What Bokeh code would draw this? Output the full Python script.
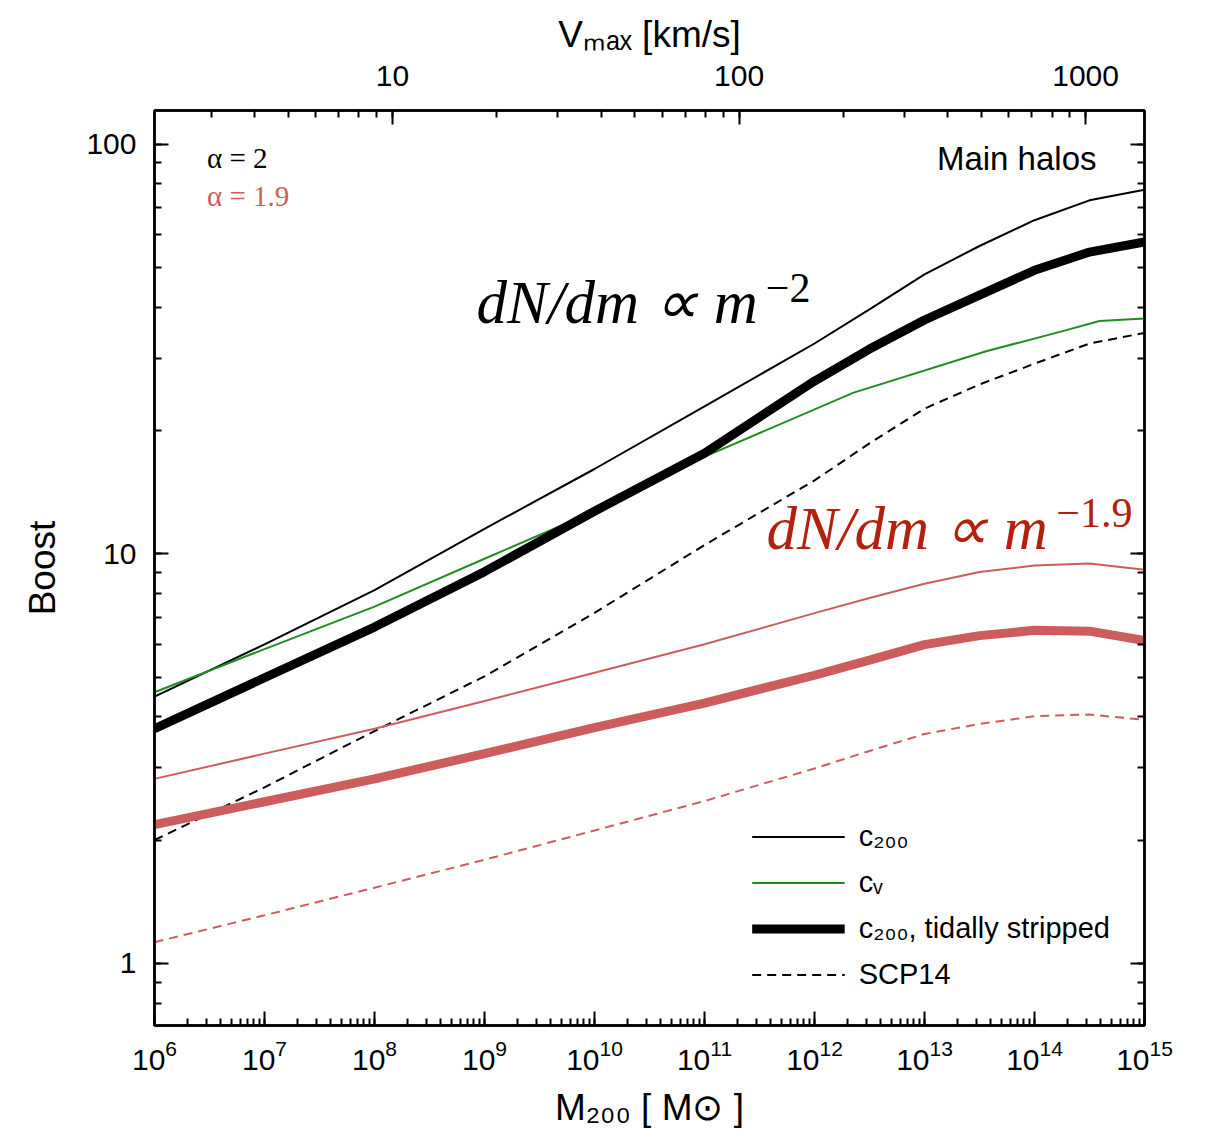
from bokeh.plotting import figure
from bokeh.models import (Range1d, LogScale, LogAxis, LogTicker, Label, Legend, LegendItem,
                          CustomJSTickFormatter, LogTickFormatter)
from bokeh.embed import file_html
from bokeh.resources import INLINE

# ---------------- data ----------------
m200 = [1e6, 1e7, 1e8, 1e9, 1e10, 1e11, 1e12, 3.162e12, 1e13, 3.162e13, 1e14, 3.162e14, 1e15]

# alpha = 2
boost_c200_a2 = [4.48, 6.01, 8.15, 11.5, 16.1, 22.9, 32.6, 39.5, 48.1, 56.4, 65.2, 72.9, 77.4]
boost_tidal_a2 = [3.74, 4.98, 6.62, 9.04, 12.7, 17.6, 26.4, 31.6, 37.2, 42.8, 49.2, 54.5, 57.7]
boost_scp14_a2 = [2.00, 2.69, 3.69, 5.02, 7.17, 10.5, 15.1, 18.6, 22.6, 25.9, 29.1, 32.6, 34.6]

m200_cv = [1e6, 1e7, 1e8, 1e9, 1e10, 3.162e10, 2.24e12, 3.63e13, 1.91e14, 3.89e14, 1e15]
boost_cv_a2 = [4.59, 5.85, 7.43, 9.72, 12.7, 15.1, 24.7, 31.2, 35.1, 37.0, 37.5]

# alpha = 1.9
boost_c200_a19 = [2.82, 3.25, 3.74, 4.37, 5.12, 6.01, 7.16, 7.80, 8.45, 9.02, 9.36, 9.46, 9.14]
boost_tidal_a19 = [2.18, 2.48, 2.82, 3.25, 3.76, 4.32, 5.05, 5.50, 6.00, 6.31, 6.50, 6.47, 6.14]
boost_scp14_a19 = [1.126, 1.31, 1.53, 1.79, 2.11, 2.49, 2.99, 3.30, 3.63, 3.84, 4.01, 4.05, 3.93]

legend_labels = ["c₂₀₀", "cᵥ", "c₂₀₀, tidally stripped", "SCP14"]

# axis ranges
m_range = (1e6, 1e15)
boost_range = (0.705, 120.8)
vmax_range = (2.056, 1479.0)   # top axis, aligned to M200 axis

# ---------------- figure ----------------
FONT = "Liberation Sans"
SERIF = "Liberation Serif"
RED = "#cd5c5c"
DARKRED = "#b3200e"
GREEN = "#228b22"

p = figure(frame_width=990, frame_height=915,
           x_axis_type="log", y_axis_type="log",
           x_range=Range1d(*m_range), y_range=Range1d(*boost_range),
           output_backend="svg", toolbar_location=None,
           min_border_left=154, min_border_right=45,
           min_border_top=110, min_border_bottom=100,
           background_fill_color="white", border_fill_color="white")
p.xgrid.visible = False
p.ygrid.visible = False
p.outline_line_color = "black"
p.outline_line_width = 2.5

p.extra_x_ranges = {"vmax": Range1d(*vmax_range)}
p.extra_x_scales = {"vmax": LogScale()}

top = LogAxis(x_range_name="vmax", ticker=LogTicker(num_minor_ticks=10),
              formatter=CustomJSTickFormatter(code="return tick.toFixed(0);"),
              axis_label="Vₘₐₓ [km/s]")
p.add_layout(top, "above")

right = LogAxis(ticker=LogTicker(num_minor_ticks=10),
                formatter=CustomJSTickFormatter(code="return '';"))
p.add_layout(right, "right")

bottom = p.below[0]
left = p.left[0]
bottom.ticker = LogTicker(num_minor_ticks=10)
left.ticker = LogTicker(num_minor_ticks=10)
bottom.formatter = LogTickFormatter()
left.formatter = CustomJSTickFormatter(code="return tick.toFixed(0);")
bottom.axis_label = "M₂₀₀ [ M⊙ ]"
left.axis_label = "Boost"

for ax in (bottom, left, top, right):
    ax.major_tick_in = 14
    ax.major_tick_out = 0
    ax.minor_tick_in = 7
    ax.minor_tick_out = 0
    ax.axis_line_width = 2.5
    ax.axis_line_color = "black"
    ax.major_tick_line_width = 2
    ax.minor_tick_line_width = 2
    ax.major_tick_line_color = "black"
    ax.minor_tick_line_color = "black"
    ax.major_label_text_font = FONT
    ax.major_label_text_font_size = "30px"
    ax.major_label_text_color = "black"
    ax.major_label_standoff = 16
    ax.axis_label_text_font = FONT
    ax.axis_label_text_font_size = "37px"
    ax.axis_label_text_font_style = "normal"
    ax.axis_label_text_color = "black"
left.axis_label_standoff = 20
left.major_label_standoff = 18
bottom.axis_label_standoff = 14
bottom.major_label_standoff = 14
top.axis_label_standoff = 8
top.major_label_standoff = 25

# ---------------- curves ----------------
r_c200 = p.line(m200, boost_c200_a2, line_color="black", line_width=2)
r_cv = p.line(m200_cv, boost_cv_a2, line_color=GREEN, line_width=2)
r_tidal = p.line(m200, boost_tidal_a2, line_color="black", line_width=9)
r_scp = p.line(m200, boost_scp14_a2, line_color="black", line_width=2, line_dash="9 6")

p.line(m200, boost_c200_a19, line_color=RED, line_width=2)
p.line(m200, boost_tidal_a19, line_color=RED, line_width=9)
p.line(m200, boost_scp14_a19, line_color=RED, line_width=2, line_dash="9 6")

# ---------------- legend ----------------
legend = Legend(items=[LegendItem(label=legend_labels[0], renderers=[r_c200]),
                       LegendItem(label=legend_labels[1], renderers=[r_cv]),
                       LegendItem(label=legend_labels[2], renderers=[r_tidal]),
                       LegendItem(label=legend_labels[3], renderers=[r_scp])],
                location="bottom_right", margin=28, padding=6, spacing=13,
                glyph_width=93, glyph_height=33, label_height=33, label_standoff=14,
                label_text_font=FONT, label_text_font_size="29px", label_text_color="black",
                background_fill_alpha=0, border_line_alpha=0)
p.add_layout(legend)

# ---------------- annotations ----------------
p.add_layout(Label(x=3.0e6, y=92.3, text="α = 2", text_font=SERIF, text_font_size="29px",
                   text_color="black", text_baseline="middle"))
p.add_layout(Label(x=3.0e6, y=74.5, text="α = 1.9", text_font=SERIF, text_font_size="29px",
                   text_color=RED, text_baseline="middle"))
p.add_layout(Label(x=3.66e14, y=92.3, text="Main halos", text_font=FONT, text_font_size="33px",
                   text_color="black", text_baseline="middle", text_align="right"))

p.add_layout(Label(x=8.45e8, y=41.1, text="dN/dm ∝ m", text_font=SERIF, text_font_size="61px",
                   text_font_style="italic", text_color="black", text_baseline="middle"))
p.add_layout(Label(x=3.6e11, y=44.5, text="−2", text_font=SERIF, text_font_size="42px",
                   text_color="black", text_baseline="middle"))
p.add_layout(Label(x=3.66e11, y=11.53, text="dN/dm ∝ m", text_font=SERIF, text_font_size="61px",
                   text_font_style="italic", text_color=DARKRED, text_baseline="middle"))
p.add_layout(Label(x=1.58e14, y=12.6, text="−1.9", text_font=SERIF, text_font_size="42px",
                   text_color=DARKRED, text_baseline="middle"))

open("out.html", "w").write(file_html(p, INLINE))
